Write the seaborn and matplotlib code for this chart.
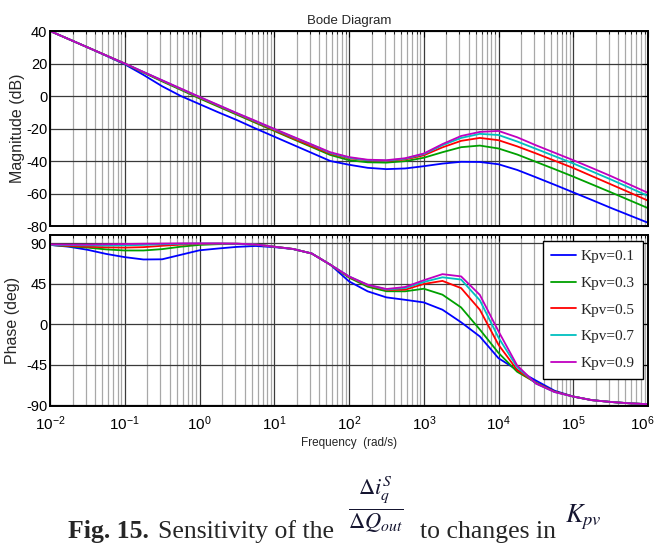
import numpy as np
import pandas as pd
import matplotlib
matplotlib.use("Agg")
import matplotlib.pyplot as plt
import matplotlib.ticker as mticker
import matplotlib.transforms as mtransforms
from matplotlib.lines import Line2D
import seaborn as sns

# ---------------- data ----------------
log_w = [-2, -1.75, -1.5, -1.25, -1, -0.75, -0.5, -0.25, 0, 0.25, 0.5, 0.75,
         1, 1.25, 1.5, 1.75, 2, 2.25, 2.5, 2.75, 3, 3.25, 3.5, 3.75,
         4, 4.25, 4.5, 4.75, 5, 5.25, 5.5, 5.75, 6]

labels = ["Kpv=0.1", "Kpv=0.3", "Kpv=0.5", "Kpv=0.7", "Kpv=0.9"]

mag_01 = [40, 35, 30, 24.8, 19.5, 13, 6, 0, -5, -10, -14.8, -20,
          -25, -30, -35, -40, -42.3, -44.2, -45, -44.6, -43.2, -41.6, -40.5, -40.6,
          -42, -45.5, -50, -54.6, -59.3, -64, -68.8, -73.4, -78]
mag_03 = [40, 35, 30, 25, 19.8, 14.4, 9, 3.8, -1.5, -6.5, -11.5, -16.5,
          -21.5, -26.5, -31.4, -36.3, -39.5, -40.8, -41, -40.1, -38, -34.6, -31.5, -30.5,
          -32.3, -36, -40.5, -45, -49.6, -54.4, -59.2, -64.1, -69]
mag_05 = [40, 35, 30, 25, 20, 14.7, 9.4, 4.2, -1, -6, -11, -16,
          -21, -26, -30.8, -35.5, -38.3, -39.6, -40, -39, -36.5, -31.6, -27.6, -25.8,
          -27.2, -31, -35.3, -39.8, -44.3, -49.3, -54.3, -59.3, -64.4]
mag_07 = [40, 35, 30, 25, 20, 14.8, 9.6, 4.4, -0.7, -5.7, -10.7, -15.6,
          -20.5, -25.3, -30, -35, -38, -39.5, -39.8, -38.6, -35.8, -30.3, -25.8, -23.3,
          -24, -28, -32.5, -37, -41.5, -46.4, -51.3, -56.4, -61.5]
mag_09 = [40, 35, 30, 25, 20, 14.8, 9.7, 4.6, -0.5, -5.5, -10.5, -15.3,
          -20.2, -25, -29.8, -34.6, -37.6, -39.2, -39.5, -38.3, -35.4, -29.6, -24.6, -22.1,
          -21.5, -25.4, -30.3, -34.9, -39.5, -44.3, -49.2, -54.4, -59.6]

ph_01 = [88, 86, 82.6, 78, 74.4, 71.8, 72, 77, 82, 84, 85.8, 86.8,
         85.5, 83.4, 78.5, 66, 47.5, 36.4, 29.7, 27, 24.1, 16, 2, -13.7,
         -37.9, -51, -62.7, -74, -80.5, -84.5, -86.5, -88, -89]
ph_03 = [88, 86.5, 85, 83, 81.8, 81.8, 83.3, 86, 88, 88.8, 89, 88.5,
         86, 83.5, 78.5, 66, 51.7, 41.5, 36.5, 36.4, 39.3, 32.7, 18.5, -6,
         -32, -53, -65, -75, -80.5, -84.5, -86.5, -88, -89]
ph_05 = [88, 87, 86, 85.3, 85, 85.5, 87, 88.3, 89, 89.3, 89.3, 88.5,
         86, 83.5, 78.5, 66, 52.5, 43, 38, 38.2, 44.6, 48, 40, 16,
         -23, -51, -65.5, -75, -80.5, -84.5, -86.5, -88, -89]
ph_07 = [88, 87.8, 87.5, 87.3, 87.5, 88, 88.7, 89.2, 89.5, 89.5, 89.3, 88.5,
         86, 83.5, 78.5, 66, 53, 43.5, 38.5, 40, 46.8, 52, 49.5, 26.5,
         -15, -48, -66, -75.5, -80.5, -84.5, -86.5, -88, -89]
ph_09 = [88.5, 88.3, 88.3, 88.7, 89, 89.3, 89.5, 89.7, 89.8, 89.7, 89.4, 88.5,
         86, 83.5, 78.5, 66, 53, 43.8, 39, 41.2, 48.7, 55.5, 53, 32.5,
         -8, -46, -66, -75.5, -80.5, -84.5, -86.5, -88, -89]

decade_ticks = [1e-2, 1e-1, 1e0, 1e1, 1e2, 1e3, 1e4, 1e5, 1e6]
mag_ticks = [-80, -60, -40, -20, 0, 20, 40]
phase_ticks = [-90, -45, 0, 45, 90]

colors = ["#0000ff", "#00a000", "#ff0000", "#00bfbf", "#c000c0"]

mags = [mag_01, mag_03, mag_05, mag_07, mag_09]
phs = [ph_01, ph_03, ph_05, ph_07, ph_09]
rows = []
for lab, m, p in zip(labels, mags, phs):
    for lw_, mv, pv in zip(log_w, m, p):
        rows.append({"w": 10.0 ** lw_, "mag": mv, "phase": pv, "K": lab})
df = pd.DataFrame(rows)

# ---------------- figure ----------------
sns.set_theme(style="white")
plt.rcParams["font.family"] = ["Liberation Sans", "DejaVu Sans"]
plt.rcParams["mathtext.fontset"] = "stix"
plt.rcParams["axes.unicode_minus"] = False

W, H = 658, 544
fig = plt.figure(figsize=(W / 100, H / 100), dpi=100)
fig.patch.set_facecolor("white")

def ax_rect(x0, y0, x1, y1):
    return [x0 / W, 1 - y1 / H, (x1 - x0) / W, (y1 - y0) / H]

ax1 = fig.add_axes(ax_rect(50, 31, 648, 226))
ax2 = fig.add_axes(ax_rect(50, 235, 648, 406))

pal = dict(zip(labels, colors))
for ax, col in [(ax1, "mag"), (ax2, "phase")]:
    sns.lineplot(data=df, x="w", y=col, hue="K", hue_order=labels, palette=pal,
                 ax=ax, legend=False, linewidth=1.3, estimator=None, sort=True)
    ax.set_xscale("log")
    ax.set_xlim(1e-2, 1e6)
    ax.xaxis.set_major_locator(mticker.FixedLocator(decade_ticks))
    ax.xaxis.set_minor_locator(mticker.LogLocator(base=10, subs=np.arange(2, 10), numticks=100))
    ax.xaxis.set_minor_formatter(mticker.NullFormatter())
    ax.grid(True, which="major", axis="both", color="#3a3a3a", linewidth=0.9)
    ax.grid(True, which="minor", axis="x", color="#a8a8a8", linewidth=0.9)
    ax.set_axisbelow(True)
    for s in ax.spines.values():
        s.set_color("black")
        s.set_linewidth(1.4)
    ax.tick_params(which="both", direction="in", top=True, right=True,
                   labelsize=10.5, colors="black", pad=2)
    ax.tick_params(which="major", length=4, width=0.8)
    ax.tick_params(which="minor", length=2.5, width=0.6)
    ax.set_xlabel("")

ax1.set_ylim(-80, 40)
ax1.set_yticks(mag_ticks)
ax1.tick_params(axis="x", which="both", labelbottom=False)
ax1.set_ylabel("Magnitude (dB)", fontsize=11.5, labelpad=1)
ax1.set_title("Bode Diagram", fontsize=9.5, pad=5)

ax2.set_ylim(-91, 99)
ax2.set_yticks(phase_ticks)
ax2.set_ylabel("Phase (deg)", fontsize=11.5, labelpad=4)
ax2.xaxis.set_major_formatter(mticker.FuncFormatter(
    lambda v, p: r"$\mathregular{10^{%d}}$" % int(round(np.log10(v)))))
ax2.tick_params(axis="x", labelsize=11, pad=6)
ax2.set_xlabel("Frequency  (rad/s)", fontsize=8.5, labelpad=3)

handles = [Line2D([], [], color=c, linewidth=1.3) for c in colors]
leg = ax2.legend(handles, labels, loc="upper right", bbox_to_anchor=(0.9985, 0.99),
                 prop={"family": "Liberation Serif", "size": 11},
                 frameon=True, fancybox=False, framealpha=1, edgecolor="black",
                 borderpad=0.55, labelspacing=0.85, handlelength=1.6,
                 handletextpad=0.3, borderaxespad=0.3)
leg.get_frame().set_linewidth(1.0)

# keep the last decade label inside the canvas (nudge a few px left)
fig.canvas.draw()
last = ax2.xaxis.get_major_ticks()[-1].label1
last.set_transform(last.get_transform() +
                   mtransforms.ScaledTranslation(-4 / 72, 0, fig.dpi_scale_trans))

# ---------------- caption ----------------
cap_fs = 18.5
fig.text(68 / W, 1 - 538 / H, "Fig. 15.", fontsize=cap_fs, fontweight="bold",
         family="Liberation Serif", ha="left", va="baseline")
fig.text(158 / W, 1 - 538 / H, "Sensitivity of the", fontsize=cap_fs,
         family="Liberation Serif", ha="left", va="baseline")
fig.text(376 / W, 1 - 505 / H, r"$\frac{\Delta i_q^S}{\Delta Q_{out}}$", fontsize=23,
         ha="center", va="center", color="#151530")
fig.text(420 / W, 1 - 538 / H, "to changes in", fontsize=cap_fs,
         family="Liberation Serif", ha="left", va="baseline")
fig.text(565 / W, 1 - 522 / H, r"$K_{pv}$", fontsize=19,
         ha="left", va="baseline", color="#151530")

fig.savefig("out.png", dpi=100)
